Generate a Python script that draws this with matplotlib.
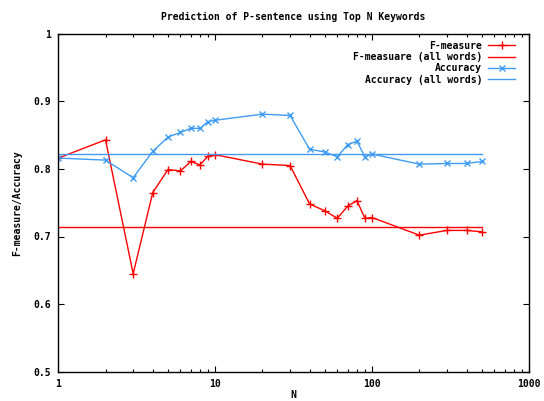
import matplotlib
matplotlib.use("Agg")
import matplotlib.pyplot as plt
from matplotlib.ticker import LogLocator, FixedLocator, NullFormatter

N = [1, 2, 3, 4, 5, 6, 7, 8, 9, 10, 20, 30, 40, 50, 60, 70, 80, 90, 100, 200, 300, 400, 500]
f_measure = [0.816, 0.843, 0.645, 0.765, 0.799, 0.797, 0.811, 0.806, 0.819, 0.821,
             0.807, 0.805, 0.748, 0.738, 0.727, 0.745, 0.753, 0.727, 0.728,
             0.702, 0.709, 0.709, 0.707]
accuracy = [0.816, 0.813, 0.787, 0.826, 0.847, 0.854, 0.860, 0.860, 0.870, 0.872,
            0.881, 0.879, 0.829, 0.825, 0.818, 0.836, 0.841, 0.818, 0.822,
            0.807, 0.808, 0.808, 0.811]
f_all = 0.7136
acc_all = 0.8225

title = "Prediction of P-sentence using Top N Keywords"
xlabel = "N"
ylabel = "F-measure/Accuracy"
labels = ["F-measure", "F-measuare (all words)", "Accuracy", "Accuracy (all words)"]
xticks = [1, 10, 100, 1000]
xticklabels = ["1", "10", "100", "1000"]
yticks = [0.5, 0.6, 0.7, 0.8, 0.9, 1.0]
yticklabels = ["0.5", "0.6", "0.7", "0.8", "0.9", "1"]

RED = "#ff0000"
BLUE = "#3f9cf2"

plt.rcParams['font.family'] = ['DejaVu Sans Mono']
plt.rcParams['font.weight'] = 'bold'
FS = 7

fig = plt.figure(figsize=(5.44, 4.01), dpi=100)
ax = fig.add_axes([58.3 / 544, 1 - 371.7 / 401, (529 - 58.3) / 544, (371.7 - 33.7) / 401])

ax.plot(N, f_measure, color=RED, lw=1, marker='+', ms=6, mew=1, label=labels[0])
ax.plot(N, [f_all] * len(N), color=RED, lw=1, label=labels[1])
ax.plot(N, accuracy, color=BLUE, lw=1, marker='x', ms=5, mew=1, label=labels[2])
ax.plot(N, [acc_all] * len(N), color=BLUE, lw=1, label=labels[3])

ax.set_xscale('log')
ax.set_xlim(1, 1000)
ax.set_ylim(0.5, 1.0)
ax.xaxis.set_major_locator(FixedLocator(xticks))
ax.set_xticklabels(xticklabels, fontsize=FS, fontweight='bold')
ax.xaxis.set_minor_locator(LogLocator(base=10, subs=range(2, 10)))
ax.xaxis.set_minor_formatter(NullFormatter())
ax.set_yticks(yticks)
ax.set_yticklabels(yticklabels, fontsize=FS, fontweight='bold')
ax.tick_params(which='major', direction='in', length=4, width=0.8, top=True, right=True, pad=5)
ax.tick_params(which='minor', direction='in', length=2, width=0.8, top=True, right=True)
for s in ax.spines.values():
    s.set_linewidth(1)
    s.set_color('black')

ax.set_title(title, fontsize=FS, fontweight='bold', pad=10)
ax.set_xlabel(xlabel, fontsize=FS, fontweight='bold', labelpad=1)
ax.set_ylabel(ylabel, fontsize=FS, fontweight='bold', labelpad=8)

leg = ax.legend(loc='upper right', bbox_to_anchor=(0.985, 1.0), frameon=False, markerfirst=False,
                fontsize=FS, handlelength=2.8, labelspacing=0.15, handletextpad=0.6,
                borderaxespad=0.3)
for t in leg.get_texts():
    t.set_ha('right')
    t.set_fontweight('bold')

fig.savefig("out.png", dpi=100)
